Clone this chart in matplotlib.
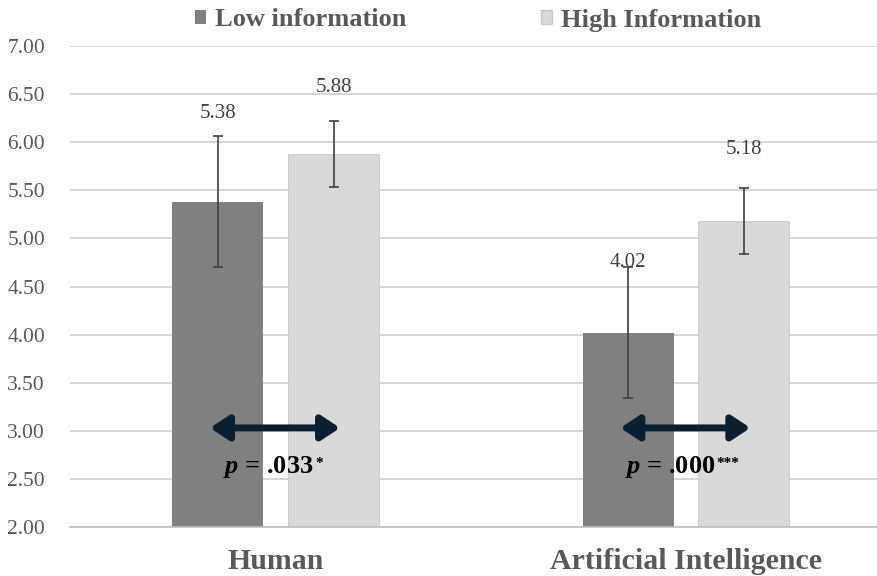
import numpy as np
import matplotlib
matplotlib.use('Agg')
import matplotlib.pyplot as plt
from matplotlib.patches import Patch

categories = ['Human', 'Artificial Intelligence']
series = ['Low information', 'High Information']
low_means = [5.38, 4.02]
high_means = [5.88, 5.18]
low_err = [0.68, 0.68]
high_err = [0.345, 0.345]
p_values = ['.033', '.000']
p_stars = ['*', '***']
yticks = [2.0, 2.5, 3.0, 3.5, 4.0, 4.5, 5.0, 5.5, 6.0, 6.5, 7.0]

plt.rcParams['font.family'] = ['Liberation Serif', 'DejaVu Serif']
plt.rcParams['mathtext.fontset'] = 'custom'
plt.rcParams['mathtext.rm'] = 'Liberation Serif:bold'
plt.rcParams['mathtext.it'] = 'Liberation Serif:italic:bold'
plt.rcParams['mathtext.bf'] = 'Liberation Serif:bold'

low_col = '#808080'
high_col = '#D9D9D9'
text_col = '#595959'

fig = plt.figure(figsize=(8.78, 5.76), dpi=100)
ax = fig.add_axes([70 / 878, 1 - 527 / 576, 808 / 878, (527 - 46) / 576])

x = np.arange(len(categories))
w = 0.222
off = 0.141
ax.bar(x - off, low_means, w, color=low_col, zorder=2)
ax.bar(x + off, high_means, w, color=high_col, edgecolor='#C8C8C8', linewidth=0.6, zorder=2)
ax.errorbar(x - off, low_means, yerr=low_err, fmt='none', ecolor='#404040',
            elinewidth=1.2, capsize=3.5, capthick=1.2, zorder=3)
ax.errorbar(x + off, high_means, yerr=high_err, fmt='none', ecolor='#404040',
            elinewidth=1.2, capsize=3.5, capthick=1.2, zorder=3)

# value labels (hand placed like the original)
low_lab_off = [0.92, 0.73]
high_lab_off = [0.69, 0.74]
for i in range(len(categories)):
    ax.text(x[i] - off, low_means[i] + low_lab_off[i], f'{low_means[i]:.2f}',
            ha='center', va='center', fontsize=15, color='#404040', zorder=4)
    ax.text(x[i] + off, high_means[i] + high_lab_off[i], f'{high_means[i]:.2f}',
            ha='center', va='center', fontsize=15, color='#404040', zorder=4)

# double-headed arrows and p-values
p_shift = [-0.018, -0.039]
for i in range(len(categories)):
    ax.annotate('', xy=(x[i] - 0.16, 3.03), xytext=(x[i] + 0.157, 3.03),
                arrowprops=dict(arrowstyle='<|-|>,head_width=0.33,head_length=0.5',
                                color='#0B1F2E', lw=5,
                                mutation_scale=22, shrinkA=0, shrinkB=0),
                zorder=5)
    t = ax.text(x[i] + p_shift[i], 2.62, '$p$ = ' + p_values[i], ha='center', va='center',
                fontsize=19, fontweight='bold', color='black', zorder=5)
    ax.annotate(p_stars[i], xy=(1.0, 1.0), xycoords=t, xytext=(1, -2),
                textcoords='offset points', ha='left', va='top',
                fontsize=11, fontweight='bold', color='black', zorder=5)

ax.set_ylim(2.0, 7.0)
ax.set_xlim(-0.5012, 1.468)
ax.set_yticks(yticks)
ax.set_yticklabels([f'{t:.2f}' for t in yticks], fontsize=15.5, color=text_col)
ax.yaxis.grid(True, color='#D0D0D0', linewidth=1.2, zorder=0)
ax.set_axisbelow(True)
ax.tick_params(axis='y', length=0, pad=18)
ax.set_xticks(x)
ax.set_xticklabels(categories, fontsize=21.5, fontweight='bold', color=text_col)
ax.tick_params(axis='x', length=0, pad=15)
for s in ['top', 'right', 'left']:
    ax.spines[s].set_visible(False)
ax.spines['bottom'].set_color('#BFBFBF')
ax.spines['bottom'].set_linewidth(1.2)

handles = [Patch(facecolor=low_col, label=series[0]),
           Patch(facecolor=high_col, edgecolor='#C8C8C8', label=series[1])]
fig.legend(handles=handles, loc='center', bbox_to_anchor=(478 / 878, 1 - 20 / 576),
           ncol=2, frameon=False, handlelength=0.42, handleheight=0.42,
           handletextpad=0.35, columnspacing=5.1, borderpad=0,
           prop={'family': 'Liberation Serif', 'weight': 'bold', 'size': 19},
           labelcolor=text_col)

fig.savefig('out.png', dpi=100)
